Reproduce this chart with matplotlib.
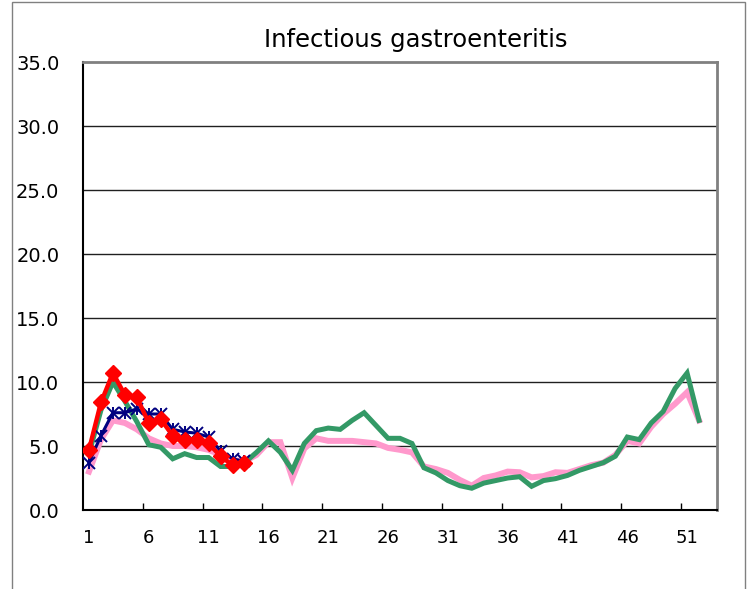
import matplotlib
matplotlib.use("Agg")
import matplotlib.pyplot as plt
import matplotlib.patches as mpatches
import numpy as np

plt.rcParams['font.family'] = ['DejaVu Sans']

# ---------- Data (weekly values per sentinel) ----------
weeks_full = list(range(1, 53))
weeks_now = list(range(1, 15))

pink_vals = [3.0, 5.5, 7.0, 6.8, 6.3, 5.6, 5.2, 5.0, 5.0, 4.9,
             4.7, 4.3, 3.9, 3.8, 4.3, 5.3, 5.3, 2.5, 4.8, 5.6,
             5.4, 5.4, 5.4, 5.3, 5.2, 4.85, 4.7, 4.5, 3.4, 3.2,
             2.9, 2.35, 1.9, 2.5, 2.7, 3.0, 2.95, 2.55, 2.65, 2.95,
             2.9, 3.2, 3.5, 3.7, 4.3, 5.4, 5.2, 6.5, 7.5, 8.3,
             9.2, 7.0]

green_vals = [4.4, 7.8, 10.0, 8.5, 6.9, 5.1, 4.9, 4.0, 4.4, 4.1,
              4.1, 3.4, 3.4, 3.7, 4.5, 5.4, 4.5, 3.1, 5.2, 6.2,
              6.4, 6.3, 7.0, 7.6, 6.6, 5.6, 5.6, 5.2, 3.3, 2.9,
              2.3, 1.9, 1.7, 2.1, 2.3, 2.5, 2.6, 1.85, 2.3, 2.45,
              2.7, 3.1, 3.4, 3.7, 4.2, 5.7, 5.5, 6.8, 7.7, 9.5,
              10.7, 7.0]

navy_vals = [3.7, 5.8, 7.6, 7.6, 7.9, 7.5, 7.5, 6.3, 6.1, 6.0,
             5.7, 4.6, 4.0, 3.8]

red_vals = [4.7, 8.4, 10.7, 9.0, 8.8, 6.8, 7.1, 5.8, 5.5, 5.5,
            5.2, 4.2, 3.5, 3.7]

y_ticks = [0, 5, 10, 15, 20, 25, 30, 35]
x_labels = [1, 6, 11, 16, 21, 26, 31, 36, 41, 46, 51]

# ---------- Figure ----------
fig = plt.figure(figsize=(7.52, 5.89), dpi=100)
ax = fig.add_axes([83 / 752, 1 - 510 / 589, (717 - 83) / 752, (510 - 62) / 589])

# outer chart border (bottom edge falls outside the image)
fig.patches.append(mpatches.Rectangle((12 / 752, -0.05), (745 - 12) / 752, 1.05 - 2 / 589,
                                      transform=fig.transFigure, fill=False,
                                      edgecolor="#808080", linewidth=1.0))

for v in y_ticks[1:-1]:
    ax.axhline(v, color="#202020", linewidth=1.0, zorder=1)

ax.plot(weeks_full, pink_vals, color="#FF99CC", linewidth=4.3, zorder=2,
        solid_joinstyle="miter")
ax.plot(weeks_full, green_vals, color="#339966", linewidth=3.6, zorder=3,
        solid_joinstyle="miter")
ax.plot(weeks_now, navy_vals, color="#000080", linewidth=2.2, zorder=4,
        marker="x", markersize=8, markeredgewidth=1.4)
ax.plot(weeks_now, navy_vals, linestyle="None", color="#000080", zorder=4,
        marker="|", markersize=9, markeredgewidth=1.4)
ax.plot(weeks_now, red_vals, color="#FF0000", linewidth=3.2, zorder=5,
        marker="D", markersize=8.5, markeredgecolor="#FF0000")

ax.set_xlim(0.5, 53.5)
ax.set_ylim(0, 35)
ax.set_yticks(y_ticks)
ax.set_yticklabels([f"{v:.1f}" for v in y_ticks], fontsize=14)
ax.tick_params(axis="y", length=0, pad=17)

ax.set_xticks(np.arange(5.5, 51, 5))
ax.set_xticklabels([])
ax.tick_params(axis="x", which="major", direction="in", length=5, width=1, color="black")
ax.set_xticks(x_labels, minor=True)
ax.set_xticklabels([str(v) for v in x_labels], minor=True, fontsize=13)
ax.tick_params(axis="x", which="minor", length=0, pad=14)

for side in ["top", "right"]:
    ax.spines[side].set_color("#808080")
    ax.spines[side].set_linewidth(2.0)
for side in ["left", "bottom"]:
    ax.spines[side].set_color("black")
    ax.spines[side].set_linewidth(1.5)

fig.text(416 / 752, 1 - 40 / 589, "Infectious gastroenteritis", fontsize=17.5,
         ha="center", va="center")

fig.savefig("out.png", dpi=100)
